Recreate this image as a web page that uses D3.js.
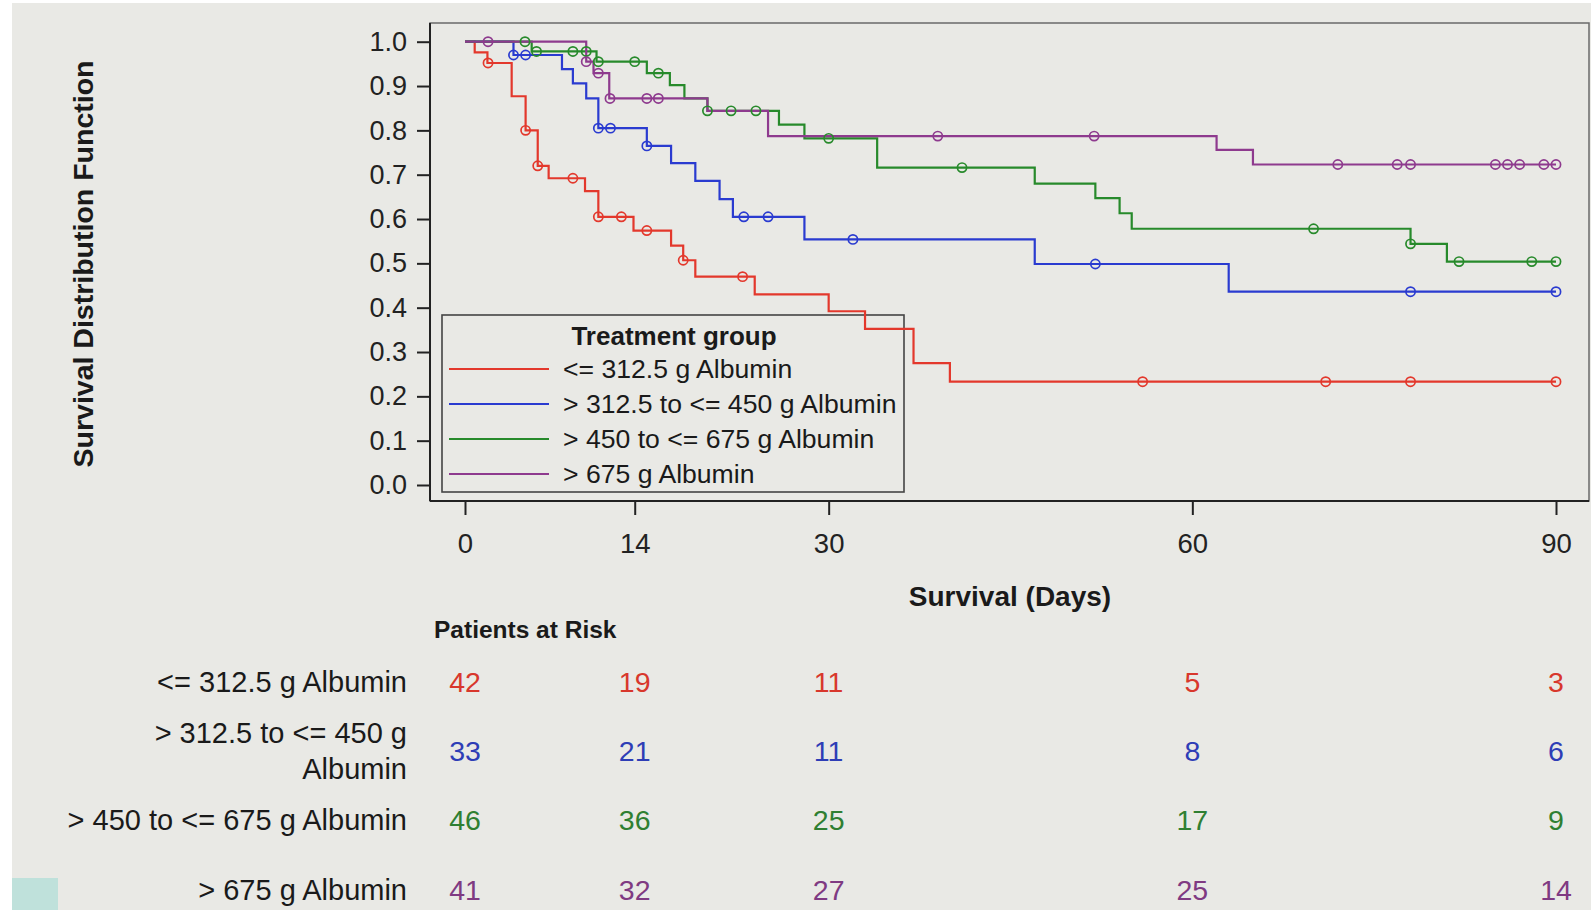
<!DOCTYPE html>
<html>
<head>
<meta charset="utf-8">
<script src="https://cdn.jsdelivr.net/npm/d3@7"></script>
<style>
  html, body { margin: 0; padding: 0; background: #ffffff; }
  svg { display: block; font-family: "Liberation Sans", Arial, Helvetica, sans-serif; }
</style>
</head>
<body>
<svg id="chart" width="1591" height="910"></svg>
<script>
// Treatment groups (albumin dose)
const groups = [
  "<= 312.5 g Albumin",
  "> 312.5 to <= 450 g Albumin",
  "> 450 to <= 675 g Albumin",
  "> 675 g Albumin"
];

// Kaplan-Meier steps: [day, survival after the step]
const stepsLow = [[0,1],[0.8,0.976],[1.85,0.952],[3.85,0.877],[5,0.80],[6,0.72],[6.9,0.692],[9.9,0.663],[11,0.605],[13.9,0.574],[17,0.54],[18,0.507],[19,0.47],[23.9,0.43],[30,0.392],[33,0.352],[37,0.275],[40,0.233]];
const stepsMidLow = [[0,1],[4,0.97],[8,0.938],[8.9,0.906],[10,0.872],[11,0.805],[15,0.765],[17,0.726],[19,0.686],[21,0.645],[22.1,0.605],[28,0.554],[47,0.4985],[63,0.436]];
const stepsMidHigh = [[0,1],[5.5,0.978],[10.85,0.955],[15,0.929],[16.9,0.902],[18.1,0.872],[20,0.844],[25.9,0.813],[28,0.782],[34,0.716],[47,0.680],[52,0.647],[54,0.613],[55,0.578],[78,0.544],[81,0.504]];
const stepsHigh = [[0,1],[10,0.955],[10.6,0.929],[11.9,0.872],[20,0.844],[25,0.787],[62,0.756],[65,0.723]];

// Censored observation times (days)
const censLow = [1.9,5,6,8.9,11,12.9,15,18,22.9,55.9,71,78,90];
const censMidLow = [4,5,11,12,15,23,25,32,52,78,90];
const censMidHigh = [4.95,5.9,8.9,10,11,14,15.95,20,21.95,24,30,41,70,78,82,88,90];
const censHigh = [1.9,10,11,11.96,15,15.95,39,51.9,72,76.9,78,85,86,87,89,90];

// Axis ticks
const xTicks = [0,14,30,60,90];
const yTicks = [0,0.1,0.2,0.3,0.4,0.5,0.6,0.7,0.8,0.9,1.0];

// Patients at risk at each tick time
const riskTimes = [0,14,30,60,90];
const riskLow = [42,19,11,5,3];
const riskMidLow = [33,21,11,8,6];
const riskMidHigh = [46,36,25,17,9];
const riskHigh = [41,32,27,25,14];

const lineColors = ["#e3382c", "#2a3bd0", "#278a2b", "#8e3a8e"];
const textColors = ["#d8372c", "#2e3db6", "#2f7f32", "#7f3a82"];

const series = [
  { name: groups[0], steps: stepsLow, cens: censLow, risk: riskLow },
  { name: groups[1], steps: stepsMidLow, cens: censMidLow, risk: riskMidLow },
  { name: groups[2], steps: stepsMidHigh, cens: censMidHigh, risk: riskMidHigh },
  { name: groups[3], steps: stepsHigh, cens: censHigh, risk: riskHigh }
];

const svg = d3.select("#chart");
const W = 1591, H = 910;
const bg = "#e9e9e5";

// page background
svg.append("rect").attr("x", 12).attr("y", 3).attr("width", W - 12).attr("height", H - 3).attr("fill", bg);
svg.append("rect").attr("x", 12).attr("y", 878).attr("width", 46).attr("height", 32).attr("fill", "#bfe1db");

// plot frame
const frame = { left: 430, right: 1589, top: 23, bottom: 501 };
const x = d3.scaleLinear().domain([0, 90]).range([465, 1556]);
const y = d3.scaleLinear().domain([0, 1]).range([485, 41.7]);

svg.append("rect")
  .attr("x", frame.left).attr("y", frame.top)
  .attr("width", frame.right - frame.left).attr("height", frame.bottom - frame.top)
  .attr("fill", bg).attr("stroke", "#6a6a6a").attr("stroke-width", 1.5);

// y axis
const yAxis = svg.append("g")
  .attr("transform", `translate(${frame.left},0)`)
  .call(d3.axisLeft(y).tickValues(yTicks).tickFormat(d3.format(".1f")).tickSize(13).tickPadding(10));
yAxis.select(".domain").attr("d", `M0,${frame.top}V${frame.bottom}`).attr("stroke", "#222").attr("stroke-width", 2);
yAxis.selectAll(".tick line").attr("stroke", "#222").attr("stroke-width", 2);
yAxis.selectAll(".tick text").attr("font-size", 27).attr("fill", "#222").attr("font-family", "Liberation Sans, Arial, sans-serif");

// x axis
const xAxis = svg.append("g")
  .attr("transform", `translate(0,${frame.bottom})`)
  .call(d3.axisBottom(x).tickValues(xTicks).tickFormat(d3.format("d")).tickSize(14).tickPadding(18));
xAxis.select(".domain").attr("d", `M${frame.left},0H${frame.right}`).attr("stroke", "#222").attr("stroke-width", 2);
xAxis.selectAll(".tick line").attr("stroke", "#222").attr("stroke-width", 2);
xAxis.selectAll(".tick text").attr("font-size", 27.5).attr("fill", "#222").attr("font-family", "Liberation Sans, Arial, sans-serif");

// axis titles
svg.append("text")
  .attr("x", 1010).attr("y", 596).attr("dy", "0.35em")
  .attr("text-anchor", "middle").attr("font-size", 28).attr("font-weight", "bold").attr("fill", "#1a1a1a")
  .text("Survival (Days)");
svg.append("text")
  .attr("transform", "translate(83,264) rotate(-90)")
  .attr("dy", "0.35em")
  .attr("text-anchor", "middle").attr("font-size", 28.5).attr("font-weight", "bold").attr("fill", "#1a1a1a")
  .text("Survival Distribution Function");

// legend (drawn beneath the curves)
const lg = svg.append("g");
lg.append("rect").attr("x", 442).attr("y", 315).attr("width", 462).attr("height", 177)
  .attr("fill", bg).attr("stroke", "#444").attr("stroke-width", 1.6);
lg.append("text").attr("x", 674).attr("y", 345).attr("text-anchor", "middle")
  .attr("font-size", 26).attr("font-weight", "bold").attr("fill", "#1a1a1a").text("Treatment group");
const legendRowY = [369, 404, 439, 474];
series.forEach((s, i) => {
  lg.append("line").attr("x1", 449).attr("x2", 549).attr("y1", legendRowY[i]).attr("y2", legendRowY[i])
    .attr("stroke", lineColors[i]).attr("stroke-width", 2.2);
  lg.append("text").attr("x", 563).attr("y", legendRowY[i]).attr("dy", "0.35em")
    .attr("font-size", 26.6).attr("fill", "#1a1a1a").text(s.name);
});

// survival curves
const stepLine = d3.line().x(d => x(d[0])).y(d => y(d[1])).curve(d3.curveStepAfter);
function valueAt(steps, t) {
  let v = steps[0][1];
  for (const s of steps) { if (s[0] <= t) v = s[1]; }
  return v;
}

const curves = svg.append("g");
series.forEach((s, i) => {
  const pts = s.steps.concat([[90, s.steps[s.steps.length - 1][1]]]);
  curves.append("path")
    .attr("d", stepLine(pts))
    .attr("fill", "none").attr("stroke", lineColors[i]).attr("stroke-width", 2.2);
});
series.forEach((s, i) => {
  curves.selectAll(null).data(s.cens).enter().append("circle")
    .attr("cx", d => x(d)).attr("cy", d => y(valueAt(s.steps, d)))
    .attr("r", 4.6).attr("fill", "none")
    .attr("stroke", lineColors[i]).attr("stroke-width", 1.7);
});

// patients-at-risk table
svg.append("text").attr("x", 434).attr("y", 629).attr("dy", "0.35em")
  .attr("font-size", 24.5).attr("font-weight", "bold").attr("fill", "#1a1a1a").text("Patients at Risk");
const riskRowY = [682, 751, 820, 890];
const rowLabelLines = [
  ["<= 312.5 g Albumin"],
  ["> 312.5 to <= 450 g", "Albumin"],
  ["> 450 to <= 675 g Albumin"],
  ["> 675 g Albumin"]
];
series.forEach((s, i) => {
  const lines = rowLabelLines[i];
  lines.forEach((ln, k) => {
    const off = (k - (lines.length - 1) / 2) * 36;
    svg.append("text").attr("x", 407).attr("y", riskRowY[i] + off).attr("dy", "0.35em")
      .attr("text-anchor", "end").attr("font-size", 29).attr("fill", "#1a1a1a").text(ln);
  });
  svg.selectAll(null).data(riskTimes).enter().append("text")
    .attr("x", d => x(d)).attr("y", riskRowY[i]).attr("dy", "0.35em")
    .attr("text-anchor", "middle").attr("font-size", 28.5).attr("fill", textColors[i])
    .text((d, k) => s.risk[k]);
});
</script>
</body>
</html>
